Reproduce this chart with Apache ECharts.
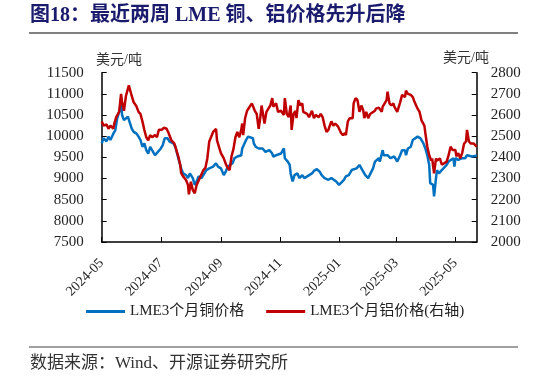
<!DOCTYPE html>
<html>
<head>
<meta charset="utf-8">
<script src="https://cdn.jsdelivr.net/npm/echarts@6/dist/echarts.min.js"></script>
<style>
  html, body { margin: 0; padding: 0; background: #fff; }
  #chart { width: 546px; height: 377px; }
</style>
</head>
<body>
<div id="chart"></div>
<script>
// LME 3个月铜价格（美元/吨）
const copperDates = [
  '2024-05-01','2024-05-03','2024-05-06','2024-05-08','2024-05-10','2024-05-13','2024-05-15','2024-05-17','2024-05-20','2024-05-21',
  '2024-05-22','2024-05-24','2024-05-28','2024-05-30','2024-06-01','2024-06-03','2024-06-06','2024-06-08','2024-06-10','2024-06-12',
  '2024-06-14','2024-06-16','2024-06-18','2024-06-20','2024-06-21','2024-06-23','2024-06-25','2024-06-28','2024-07-01','2024-07-03',
  '2024-07-05','2024-07-08','2024-07-10','2024-07-14','2024-07-16','2024-07-17','2024-07-20','2024-07-22','2024-07-24','2024-07-27',
  '2024-07-29','2024-07-31','2024-08-03','2024-08-05','2024-08-07','2024-08-09','2024-08-12','2024-08-15','2024-08-17','2024-08-20',
  '2024-08-22','2024-08-24','2024-08-27','2024-08-29','2024-09-01','2024-09-04','2024-09-06','2024-09-08','2024-09-10','2024-09-13',
  '2024-09-15','2024-09-18','2024-09-20','2024-09-22','2024-09-23','2024-09-25','2024-09-27','2024-09-29','2024-10-01','2024-10-04',
  '2024-10-05','2024-10-07','2024-10-10','2024-10-12','2024-10-14','2024-10-17','2024-10-19','2024-10-21','2024-10-24','2024-10-25',
  '2024-10-28','2024-10-30','2024-11-02','2024-11-05','2024-11-06','2024-11-09','2024-11-11','2024-11-12','2024-11-14','2024-11-16',
  '2024-11-18','2024-11-19','2024-11-21','2024-11-24','2024-11-26','2024-11-29','2024-12-01','2024-12-04','2024-12-06','2024-12-09',
  '2024-12-12','2024-12-14','2024-12-17','2024-12-19','2024-12-21','2024-12-24','2024-12-26','2024-12-29','2025-01-01','2025-01-03',
  '2025-01-06','2025-01-08','2025-01-11','2025-01-14','2025-01-16','2025-01-19','2025-01-20','2025-01-22','2025-01-25','2025-01-26',
  '2025-01-28','2025-01-31','2025-02-02','2025-02-05','2025-02-07','2025-02-09','2025-02-11','2025-02-12','2025-02-15','2025-02-16',
  '2025-02-18','2025-02-20','2025-02-23','2025-02-25','2025-02-27','2025-03-02','2025-03-04','2025-03-05','2025-03-07','2025-03-10',
  '2025-03-11','2025-03-13','2025-03-16','2025-03-18','2025-03-20','2025-03-23','2025-03-25','2025-03-26','2025-03-29','2025-03-31',
  '2025-04-02','2025-04-04','2025-04-05','2025-04-07','2025-04-08','2025-04-09','2025-04-11','2025-04-12','2025-04-14','2025-04-17',
  '2025-04-19','2025-04-22','2025-04-24','2025-04-26','2025-04-29','2025-04-30','2025-05-01','2025-05-04','2025-05-06','2025-05-08',
  '2025-05-11','2025-05-13','2025-05-15','2025-05-18','2025-05-20','2025-05-23'
];
const copperPrice = [
  9830,9950,9880,9990,9910,10060,10140,10420,10650,10910,
  10500,10380,10460,10420,10180,10100,10060,9990,9910,9750,
  9830,9670,9590,9750,9710,9630,9550,9630,9710,9790,
  9950,9950,9870,9830,9750,9710,9400,9240,9120,9080,
  9010,9120,9010,8850,8930,9050,9010,9120,9200,9240,
  9225,9280,9360,9280,9240,9080,9160,9280,9280,9360,
  9480,9520,9480,9550,9710,9750,9910,9990,9950,9950,
  9830,9750,9710,9670,9710,9630,9590,9670,9590,9520,
  9550,9520,9590,9710,9480,9400,9320,9120,8930,9080,
  9050,9120,9010,9080,9010,9050,9070,9120,9180,9220,
  9160,9080,9010,8970,8970,9010,8970,8930,8850,8850,
  8970,9050,9080,9200,9160,9240,9200,9320,9200,9240,
  9080,9010,9050,9240,9400,9400,9480,9400,9670,9550,
  9590,9550,9480,9520,9520,9400,9400,9550,9670,9670,
  9550,9710,9750,9910,9910,9990,10020,9950,9830,9710,
  9550,9320,8890,8930,8850,8580,9010,9200,9120,9200,
  9240,9320,9400,9400,9480,9280,9480,9440,9400,9480,
  9480,9550,9520,9520,9480,9540
];

// LME 3个月铝价格（美元/吨，右轴）
const alumDates = [
  '2024-05-01','2024-05-03','2024-05-06','2024-05-08','2024-05-10','2024-05-13','2024-05-14','2024-05-16','2024-05-19','2024-05-21',
  '2024-05-22','2024-05-24','2024-05-26','2024-05-29','2024-06-01','2024-06-03','2024-06-06','2024-06-08','2024-06-10','2024-06-12',
  '2024-06-14','2024-06-16','2024-06-18','2024-06-20','2024-06-22','2024-06-25','2024-06-27','2024-06-29','2024-07-02','2024-07-04',
  '2024-07-07','2024-07-09','2024-07-12','2024-07-15','2024-07-17','2024-07-19','2024-07-21','2024-07-22','2024-07-24','2024-07-27',
  '2024-07-29','2024-07-30','2024-08-01','2024-08-03','2024-08-05','2024-08-07','2024-08-10','2024-08-11','2024-08-14','2024-08-16',
  '2024-08-18','2024-08-20','2024-08-22','2024-08-24','2024-08-27','2024-08-28','2024-08-30','2024-09-01','2024-09-04','2024-09-06',
  '2024-09-08','2024-09-10','2024-09-12','2024-09-14','2024-09-16','2024-09-18','2024-09-20','2024-09-22','2024-09-23','2024-09-24',
  '2024-09-26','2024-09-28','2024-09-30','2024-10-03','2024-10-06','2024-10-08','2024-10-10','2024-10-12','2024-10-13','2024-10-16',
  '2024-10-18','2024-10-20','2024-10-22','2024-10-24','2024-10-25','2024-10-28','2024-10-30','2024-11-02','2024-11-05','2024-11-06',
  '2024-11-08','2024-11-10','2024-11-12','2024-11-13','2024-11-15','2024-11-17','2024-11-18','2024-11-20','2024-11-22','2024-11-24',
  '2024-11-25','2024-11-27','2024-11-29','2024-12-01','2024-12-04','2024-12-06','2024-12-08','2024-12-11','2024-12-13','2024-12-15',
  '2024-12-17','2024-12-19','2024-12-21','2024-12-22','2024-12-24','2024-12-26','2024-12-28','2024-12-31','2025-01-01','2025-01-03',
  '2025-01-05','2025-01-07','2025-01-08','2025-01-10','2025-01-12','2025-01-15','2025-01-16','2025-01-18','2025-01-20','2025-01-22',
  '2025-01-24','2025-01-26','2025-01-27','2025-01-29','2025-01-31','2025-02-02','2025-02-04','2025-02-07','2025-02-08','2025-02-11',
  '2025-02-14','2025-02-15','2025-02-17','2025-02-19','2025-02-20','2025-02-22','2025-02-24','2025-02-26','2025-02-27','2025-03-02',
  '2025-03-04','2025-03-05','2025-03-07','2025-03-10','2025-03-11','2025-03-13','2025-03-16','2025-03-18','2025-03-20','2025-03-23',
  '2025-03-25','2025-03-27','2025-03-30','2025-03-31','2025-04-02','2025-04-04','2025-04-06','2025-04-07','2025-04-09','2025-04-11',
  '2025-04-12','2025-04-15','2025-04-17','2025-04-19','2025-04-22','2025-04-24','2025-04-26','2025-04-28','2025-05-01','2025-05-02',
  '2025-05-04','2025-05-06','2025-05-08','2025-05-10','2025-05-12','2025-05-13','2025-05-15','2025-05-17','2025-05-19','2025-05-20',
  '2025-05-23'
];
const alumPrice = [
  2570,2550,2555,2535,2550,2535,2560,2590,2615,2700,
  2660,2620,2690,2740,2690,2660,2640,2615,2605,2570,
  2530,2495,2480,2505,2495,2505,2495,2530,2530,2540,
  2535,2515,2480,2465,2460,2405,2365,2325,2310,2293,
  2270,2225,2285,2245,2230,2270,2300,2295,2340,2350,
  2395,2475,2497,2520,2535,2480,2475,2420,2395,2370,
  2350,2340,2405,2440,2495,2520,2495,2530,2560,2505,
  2585,2620,2615,2655,2620,2605,2535,2600,2645,2560,
  2615,2620,2645,2680,2640,2655,2615,2620,2600,2680,
  2605,2590,2645,2530,2605,2620,2585,2670,2645,2655,
  2615,2620,2605,2590,2620,2585,2600,2590,2605,2590,
  2550,2520,2530,2545,2570,2550,2560,2545,2550,2515,
  2505,2515,2505,2570,2585,2585,2655,2680,2670,2615,
  2645,2620,2585,2615,2585,2605,2600,2620,2630,2635,
  2615,2640,2640,2670,2710,2655,2645,2655,2640,2615,
  2620,2660,2695,2685,2715,2700,2695,2685,2660,2630,
  2615,2575,2550,2515,2450,2410,2385,2395,2325,2395,
  2385,2395,2365,2365,2380,2410,2450,2435,2435,2405,
  2420,2395,2420,2465,2475,2530,2475,2465,2460,2465,
  2450
];

const tickMonths = ['2024-05-01','2024-07-01','2024-09-01','2024-11-01','2025-01-01','2025-03-01','2025-05-01'];
const axisStart = '2024-05-01';
const axisEnd = '2025-05-23';

const toTime = (d) => +echarts.number.parseDate(d);
const tickValues = tickMonths.map(toTime);
const serif = 'Liberation Serif, Noto Sans CJK SC';

const chart = echarts.init(document.getElementById('chart'));

chart.setOption({
  animation: false,
  title: {
    text: '图18：最近两周 LME 铜、铝价格先升后降',
    left: 30,
    top: 6,
    padding: 0,
    textStyle: { fontSize: 20, fontWeight: 'bold', color: '#1b1b6e', fontFamily: serif }
  },
  graphic: [
    { type: 'line', shape: { x1: 29, y1: 33, x2: 518, y2: 33 }, style: { stroke: '#808080', lineWidth: 2 } },
    { type: 'line', shape: { x1: 29, y1: 347, x2: 518, y2: 347 }, style: { stroke: '#404040', lineWidth: 1 } },
    { type: 'text', left: 96, top: 53, style: { text: '美元/吨', fontSize: 14, fill: '#333', fontFamily: serif } },
    { type: 'text', left: 443, top: 51, style: { text: '美元/吨', fontSize: 14, fill: '#333', fontFamily: serif } },
    { type: 'text', left: 30, top: 355, style: { text: '数据来源：Wind、开源证券研究所', fontSize: 17, fill: '#333', fontFamily: serif } }
  ],
  legend: {
    left: 86,
    top: 304,
    padding: 0,
    icon: 'rect',
    itemWidth: 39,
    itemHeight: 3,
    itemGap: 22,
    textStyle: { fontSize: 15, color: '#222', fontFamily: serif },
    data: ['LME3个月铜价格', 'LME3个月铝价格(右轴)']
  },
  grid: { left: 101.7, right: 69.3, top: 72.7, bottom: 135, outerBoundsMode: 'none', containLabel: false },
  xAxis: {
    type: 'value',
    min: toTime(axisStart),
    max: toTime(axisEnd),
    axisLine: { show: true, lineStyle: { color: '#000', width: 1.5 } },
    axisTick: { show: true, inside: true, length: 5, customValues: tickValues, lineStyle: { color: '#000' } },
    axisLabel: {
      rotate: 45,
      margin: 19,
      fontSize: 14,
      color: '#222',
      fontFamily: serif,
      customValues: tickValues,
      formatter: (v) => echarts.time.format(v, '{yyyy}-{MM}', false)
    },
    splitLine: { show: false }
  },
  yAxis: [
    {
      type: 'value',
      min: 7500,
      max: 11500,
      interval: 500,
      axisLine: { show: true, lineStyle: { color: '#000', width: 1.5 } },
      axisTick: { show: true, inside: true, length: 5, lineStyle: { color: '#000' } },
      axisLabel: { margin: 18, fontSize: 15, color: '#222', fontFamily: serif, formatter: (v) => String(v) },
      splitLine: { show: false }
    },
    {
      type: 'value',
      min: 2000,
      max: 2800,
      interval: 100,
      position: 'right',
      axisLine: { show: true, lineStyle: { color: '#000', width: 1.5 } },
      axisTick: { show: true, inside: true, length: 5, lineStyle: { color: '#000' } },
      axisLabel: { margin: 14, fontSize: 15, color: '#222', fontFamily: serif, formatter: (v) => String(v) },
      splitLine: { show: false }
    }
  ],
  series: [
    {
      name: 'LME3个月铜价格',
      type: 'line',
      yAxisIndex: 0,
      showSymbol: false,
      data: copperDates.map((d, i) => [toTime(d), copperPrice[i]]),
      lineStyle: { color: '#0070c0', width: 2.5 },
      itemStyle: { color: '#0070c0' }
    },
    {
      name: 'LME3个月铝价格(右轴)',
      type: 'line',
      yAxisIndex: 1,
      showSymbol: false,
      data: alumDates.map((d, i) => [toTime(d), alumPrice[i]]),
      lineStyle: { color: '#c00000', width: 2.5 },
      itemStyle: { color: '#c00000' }
    }
  ]
});
</script>
</body>
</html>
